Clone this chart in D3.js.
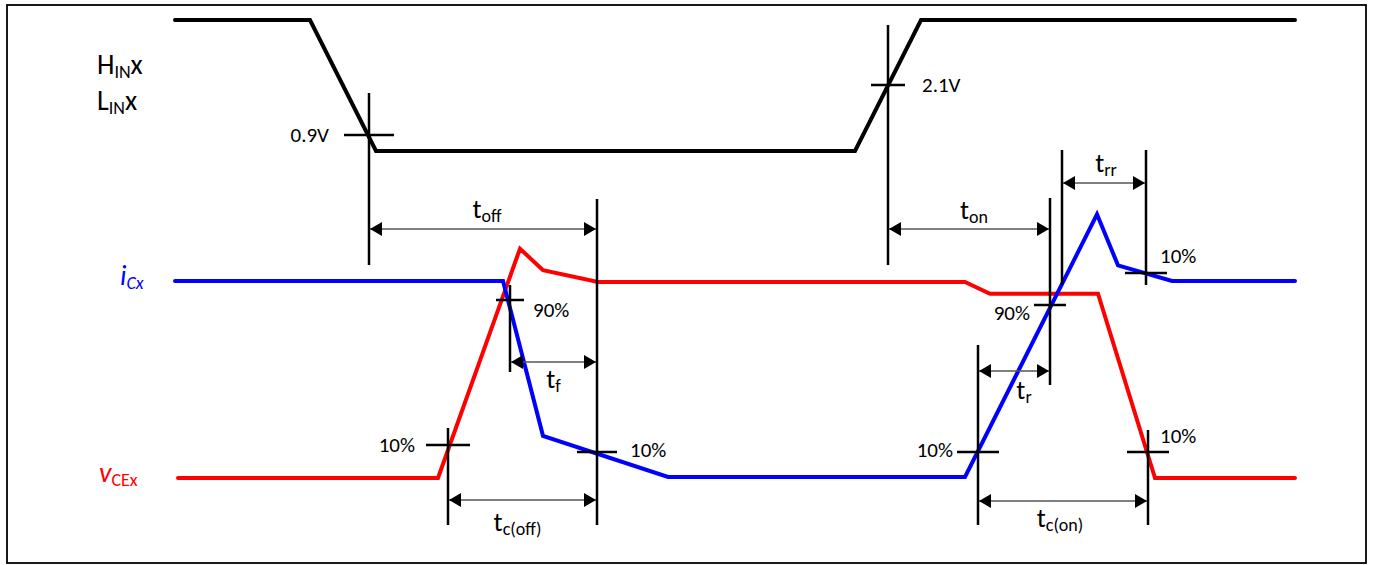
<!DOCTYPE html>
<html>
<head>
<meta charset="utf-8">
<script src="https://cdn.jsdelivr.net/npm/d3@7"></script>
<style>
  body { margin: 0; background: #fff; }
  svg { display: block; font-family: Carlito, Lato, "Open Sans", sans-serif; }
</style>
</head>
<body>
<div id="chart"></div>
<script>
// Waveforms: [time, normalised level]
const inputWave = [[0, 1], [135, 1], [201, 0], [680, 0], [746, 1], [1120, 1]];
const icWave = [[0, 1], [328, 1], [368, 0.21], [493, 0], [790, 0], [922, 1.34], [943, 1.08], [997, 1], [1120, 1]];
const vceWave = [[3, 0], [263, 0], [345, 1.17], [368, 1.06], [423, 1], [790, 1], [815, 0.94], [923, 0.94], [980, 0], [1120, 0]];

// Timing intervals (subscript name, start, end)
const intervalNames = ["off", "f", "c(off)", "on", "rr", "r", "c(on)"];
const intervalStart = [194, 335, 273, 713, 887, 803, 803];
const intervalEnd = [422, 422, 422, 875, 971, 875, 973];

// Threshold crossings (label, time)
const thresholdText = ["0.9V", "2.1V", "90%", "10%", "10%", "90%", "10%", "10%", "10%"];
const thresholdTime = [194, 713, 335, 273, 422, 875, 971, 803, 973];

// Vertical reference lines (time)
const markerTime = [194, 422, 335, 273, 713, 875, 887, 971, 803, 973];

// ---- layout ----
const W = 1375, H = 565;
const x = d3.scaleLinear().domain([0, 1120]).range([175, 1295]);
const yIn = d3.scaleLinear().domain([0, 1]).range([151, 20]);
const yIc = d3.scaleLinear().domain([0, 1]).range([477, 281]);
const yVce = d3.scaleLinear().domain([0, 1]).range([478, 282]);

// vertical extent of each marker line
const markerSpan = [[93, 265], [199, 525], [285, 372], [428, 525], [25, 265], [198, 385], [150, 285], [150, 285], [345, 525], [430, 525]];
// arrow y and label baseline / dx for each interval
const intervalY = [229, 362, 500, 229, 183, 371, 501];
const labelY = [218, 388, 531, 219, 172, 399, 527];
const labelDx = [4, 0, -5, 5, 2, 10, -3];
// crosshair y, half width, label placement [dx, dy, anchor]
const tickY = [135, 85, 300, 445, 452, 305, 273, 452, 452];
const tickHalf = [25, 17, 14, 22, 20, 16, 21, 21, 21];
const tickLabel = [[-40, 7, "end"], [34, 7, "start"], [23, 17, "start"], [-33, 7, "end"], [33, 5, "start"], [-20, 15, "end"], [14, -10, "start"], [-25, 5, "end"], [12, -9, "start"]];

const svg = d3.select("#chart").append("svg")
    .attr("width", W)
    .attr("height", H);

svg.append("rect")
    .attr("x", 7).attr("y", 5)
    .attr("width", 1359).attr("height", 558)
    .attr("fill", "none")
    .attr("stroke", "#000")
    .attr("stroke-width", 1.8);

const defs = svg.append("defs");
defs.append("marker")
    .attr("id", "head")
    .attr("markerUnits", "userSpaceOnUse")
    .attr("viewBox", "0 0 12 14")
    .attr("refX", 12).attr("refY", 7)
    .attr("markerWidth", 12).attr("markerHeight", 14)
    .attr("orient", "auto-start-reverse")
    .append("path")
    .attr("d", "M0,0L12,7L0,14Z")
    .attr("fill", "#000");

// waveforms
function drawWave(pts, y, color) {
    const line = d3.line().x(d => x(d[0])).y(d => y(d[1]));
    svg.append("path")
        .attr("d", line(pts))
        .attr("fill", "none")
        .attr("stroke", color)
        .attr("stroke-width", 4)
        .attr("stroke-linejoin", "miter")
        .attr("stroke-linecap", "round");
}
drawWave(inputWave, yIn, "#000");
drawWave(vceWave, yVce, "#ff0000");
drawWave(icWave, yIc, "#0000ff");

// vertical reference lines
svg.selectAll(".mk")
    .data(markerTime)
    .enter().append("line")
    .attr("x1", d => x(d)).attr("x2", d => x(d))
    .attr("y1", (d, i) => markerSpan[i][0])
    .attr("y2", (d, i) => markerSpan[i][1])
    .attr("stroke", "#000")
    .attr("stroke-width", 2.5);

// threshold crosshairs + labels
thresholdTime.forEach((t, i) => {
    svg.append("line")
        .attr("x1", x(t) - tickHalf[i]).attr("x2", x(t) + tickHalf[i])
        .attr("y1", tickY[i]).attr("y2", tickY[i])
        .attr("stroke", "#000")
        .attr("stroke-width", 2.5);
    const lab = tickLabel[i];
    svg.append("text")
        .attr("x", x(t) + lab[0])
        .attr("y", tickY[i] + lab[1])
        .attr("text-anchor", lab[2])
        .attr("font-size", 21)
        .attr("fill", "#000")
        .text(thresholdText[i]);
});

// interval arrows
intervalNames.forEach((name, i) => {
    const x0 = x(intervalStart[i]), x1 = x(intervalEnd[i]);
    svg.append("line")
        .attr("x1", x0 + 1).attr("x2", x1 - 1)
        .attr("y1", intervalY[i]).attr("y2", intervalY[i])
        .attr("stroke", "#555")
        .attr("stroke-width", 1.3)
        .attr("marker-start", "url(#head)")
        .attr("marker-end", "url(#head)");
    const txt = svg.append("text")
        .attr("x", (x0 + x1) / 2 + labelDx[i])
        .attr("y", labelY[i])
        .attr("text-anchor", "middle")
        .attr("font-size", 27)
        .attr("fill", "#000");
    txt.append("tspan").text("t");
    txt.append("tspan").attr("font-size", 18).attr("dy", 4).text(name);
});

// left signal labels
function sigLabel(x0, yb, main, sub, tail, color, italic, subItalic) {
    const t = svg.append("text")
        .attr("x", x0)
        .attr("y", yb)
        .attr("font-size", 28)
        .attr("fill", color);
    t.append("tspan").attr("font-style", italic ? "italic" : "normal").text(main);
    t.append("tspan").attr("font-size", 18).attr("dy", 4)
        .attr("font-style", subItalic ? "italic" : "normal").text(sub);
    if (tail) t.append("tspan").attr("dy", -4).text(tail);
}
sigLabel(97, 74, "H", "IN", "x", "#000", false, false);
sigLabel(97, 110, "L", "IN", "x", "#000", false, false);
sigLabel(120, 285, "i", "Cx", null, "#0000ff", true, true);
sigLabel(99, 482, "v", "CEx", null, "#ff0000", true, false);
</script>
</body>
</html>
